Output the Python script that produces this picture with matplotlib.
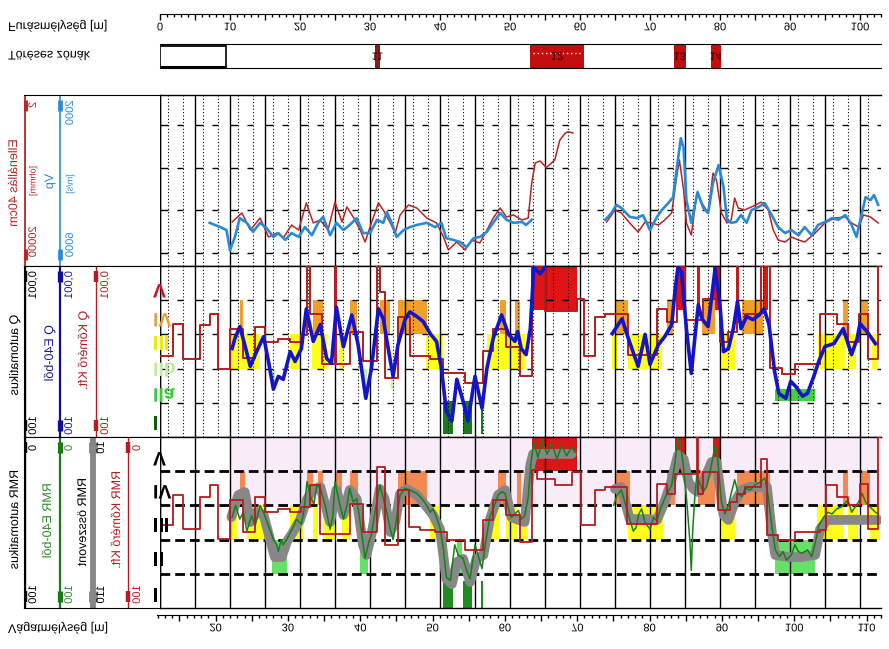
import numpy as np
import matplotlib
matplotlib.use("Agg")
import matplotlib.pyplot as plt
import matplotlib.text as mtext
from matplotlib import patheffects
from matplotlib.patches import Rectangle
from matplotlib.transforms import Affine2D

plt.rcParams['font.family'] = ['Liberation Sans', 'DejaVu Sans']
nan = np.nan

# ---------------- data (furásmélység [m]) ----------------
# panel 1 : Ellenállás 40cm [ohmm]
res_depth = [10.3, 11.7, 12.9, 14.3, 15.5, 16.7, 17.6, 18.8, 19.8, 20.9,
             21.9, 22.9, 24.0, 25.0, 26.0, 26.7, 27.6, 28.6, 29.3, 30.2,
             31.2, 31.9, 32.9, 33.6, 34.3, 35.5, 36.7, 38.1, 39.5, 40.5,
             41.2, 42.4, 43.6, 44.5, 45.7, 46.7, 47.6, 48.6, 49.5, 50.5,
             51.7, 52.6, 53.1, 53.6, 54.3, 55.2, 56.4, 57.1, 57.9, 58.3,
             59.0, 61.0,
             63.8, 65.0, 65.9, 67.1, 68.3, 69.3, 70.2, 71.2, 72.1, 73.1,
             73.8, 74.2, 74.8, 75.2, 75.9, 76.7, 77.4, 78.3, 79.0, 79.5,
             80.2, 81.0, 81.6, 82.1, 82.6, 83.5, 84.5, 85.9, 86.9, 87.6,
             88.3, 89.3, 90.2, 91.2, 92.1, 93.6, 95.0, 96.4, 97.9, 98.8,
             99.8, 100.5, 101.5, 102.6]
res_ohmm = [1870, 1150, 2880, 1510, 4200, 3380, 4430, 2200, 2880, 670,
            1970, 1680, 2880, 640, 1870, 830, 1430, 2880, 5500, 1970,
            670, 980, 1970, 3380, 1280, 750, 880, 1510, 1970, 4200,
            8450, 5500, 8450, 4930, 5790, 2880, 1510, 880, 1430, 1280,
            1680, 1510, 230, 78, 70, 100, 66, 23, 15.5, 14.5,
            15.5, nan,
            1870, 980, 1150, 1970, 3210, 1870, 1970, 2200, 1680, 1150,
            166, 66, 333, 1970, 3770, 392, 670, 1150, 134, 195,
            1150, 1970, 1680, 513, 880, 980, 830, 640, 980, 2880,
            4930, 5500, 4200, 4930, 5500, 3380, 1970, 1510, 1430, 1970,
            2450, 1280, 1430, 1970]

# panel 1 : Vp [m/s]
vp_depth = [7.1, 8.6, 9.5, 10.0, 10.7, 11.4, 12.4, 13.3, 14.3, 15.2,
            16.2, 16.9, 17.9, 18.8, 19.8, 20.7, 21.7, 22.6, 23.3, 24.3,
            25.2, 26.2, 27.1, 28.1, 29.0, 30.0, 31.0, 31.9, 32.4, 33.1,
            33.8, 34.8, 35.7, 36.7, 38.1, 39.3, 40.2, 40.9, 41.9, 42.9,
            43.8, 44.8, 45.7, 46.7, 47.6, 48.6, 49.5, 50.5, 51.7, 52.3,
            53.1, 58.0,
            63.6, 64.5, 65.2, 65.9, 67.1, 68.1, 69.0, 70.0, 71.0, 71.7,
            72.6, 73.3, 73.8, 74.4, 74.8, 75.2, 75.9, 76.8, 77.6, 78.3,
            79.0, 79.8, 80.5, 81.0, 81.6, 82.3, 83.0, 83.8, 84.5, 85.5,
            86.4, 87.4, 88.3, 89.3, 90.2, 91.2, 92.1, 93.1, 94.0, 95.0,
            96.0, 96.9, 97.9, 98.8, 99.5, 100.3, 100.8, 101.5, 102.0, 102.6]
vp_ms = [4990, 5090, 5160, 5630, 5320, 4880, 4990, 5200, 4990, 5110,
         5320, 5230, 5390, 5230, 5320, 5090, 5280, 4990, 4850, 5280,
         4990, 5160, 5040, 4880, 5230, 5230, 4920, 4990, 4740, 4990,
         5320, 5160, 5090, 5040, 4990, 5090, 4990, 5350, 5390, 5440,
         5560, 5350, 5320, 5200, 4990, 4760, 4920, 4990, 4970, 5040,
         4920, nan,
         4920, 4760, 4570, 4640, 4850, 4880, 4810, 5160, 4850, 4690,
         4530, 4390, 3750, 3010, 3240, 4460, 4990, 4270, 4640, 4760,
         4060, 3640, 4150, 4920, 4990, 4970, 4810, 4990, 4690, 4620,
         4530, 4810, 5090, 5230, 5160, 5280, 5090, 5280, 5040, 4970,
         4880, 4920, 4810, 5040, 5320, 4740, 4390, 4460, 4340, 4570]

# panel 2 : Q E40-ből
q_depth = [10.3, 10.7, 11.4, 12.1, 12.9, 13.8, 14.8, 15.5, 16.2, 16.9,
           17.6, 18.6, 19.3, 20.2, 20.9, 21.9, 22.9, 23.8, 24.5, 25.2,
           26.2, 27.4, 28.3, 29.4, 30.2, 31.2, 31.9, 32.6, 33.3, 34.0,
           35.0, 35.7, 36.7, 37.6, 38.6, 39.5, 40.2, 40.9, 41.7, 42.4,
           43.3, 44.0, 45.0, 46.0, 46.7, 47.6, 48.8, 49.8, 50.7, 51.1,
           51.6, 52.3, 52.9, 53.4, 54.3, 55.0, 59.0,
           64.6, 66.0, 66.9, 68.3, 69.3, 70.0, 71.2, 72.1, 73.1, 73.6,
           74.0, 74.5, 75.2, 75.9, 76.4, 76.9, 77.4, 78.3, 79.3, 80.0,
           80.5, 81.2, 81.9, 82.5, 83.0, 83.8, 84.7, 85.6, 86.3, 87.0,
           87.8, 88.4, 89.4, 90.1, 90.8, 91.8, 92.5, 93.4, 94.1, 95.0,
           96.3, 97.6, 98.8, 99.6, 100.0, 101.0, 102.2]
q_e40 = [0.259, 0.132, 0.059, 0.198, 0.86, 0.32, 0.116, 0.62, 4.0, 1.69,
         2.06, 0.32, 0.62, 0.26, 0.018, 0.16, 0.052, 0.5, 0.7, 0.016,
         0.23, 0.027, 0.2, 7.4, 0.99, 0.018, 0.035, 0.26, 1.69, 0.2,
         0.037, 0.022, 0.03, 0.042, 0.095, 0.16, 0.99, 17.5, 34, 2.06,
         9.0, 34, 1.69, 14.4, 0.99, 0.13, 0.027, 0.1, 0.16, 0.083,
         0.26, 0.39, 0.068, 0.0011, 0.0017, 0.0011, nan,
         0.095, 0.035, 0.13, 0.86, 0.1, 0.75, 0.2, 0.116, 0.052, 0.0047,
         0.00107, 0.0015, 0.068, 1.38, 0.13, 0.0136, 0.035, 0.059, 0.0012, 0.0136,
         0.32, 0.26, 0.068, 0.011, 0.068, 0.03, 0.037, 0.027, 0.018, 0.052,
         1.21, 5.3, 7.4, 2.36, 3.3, 6.4, 5.3, 1.69, 0.62, 0.226,
         0.185, 0.068, 0.39, 0.13, 0.048, 0.083, 0.185]

# panel 2 : Q Kőmérő Kft. (lépcsős)
qk_depth = [0.0, 1.9, 3.3, 5.7, 7.1, 8.3, 10.0, 11.9, 13.6, 15.0,
            16.9, 18.6, 20.2, 21.0, 21.4, 23.1, 25.0, 25.2, 27.1, 29.0,
            31.0, 31.4, 32.1, 34.0, 35.7, 38.6, 40.5, 43.6, 46.2, 47.6,
            49.5, 51.4, 53.1, 55.0, 59.5, 60.5, 62.1, 63.6, 66.9, 71.0,
            72.4, 73.8, 75.0, 77.6, 80.0, 81.2, 82.4, 82.6, 83.6, 85.9,
            87.1, 88.8, 90.7, 94.3, 96.7, 98.3, 99.8, 101.2, 102.6, 103.0]
qk_val = [0.44, 0.0485, 0.54, 0.052, 0.025, 1.05, 0.068, 0.505, 0.059, 0.162,
          0.132, 0.162, 0.101, 0.001, 0.025, 0.755, 0.001, 0.755, 0.083, 0.62,
          0.001, 0.0057, 1.93, 0.030, 0.44, 0.54, 1.38, 2.69, 0.316, 0.068,
          0.226, 1.69, 0.001, 0.021, 0.0091, 0.44, 0.030, 0.025, 0.39, 0.0178,
          0.0425, 0.001, 0.037, 0.0091, 0.162, 0.083, 0.001, 0.0425, 0.025, 0.001,
          0.99, 1.47, 0.71, 0.025, 0.0485, 0.162, 0.025, 0.54, 0.001, 0.001]

# panel 2 : Q osztályok (E40) sávjai
q_classes = ['V', 'IV', 'III', 'IIb', 'IIa', 'I']
q_class_top = [0.001, 0.01, 0.1, 1, 4, 9]
q_class_bot = [0.02, 0.1, 1, 4, 9, 80]
q_blk_start = [53.1, 73.9, 76.7, 79.0, 86.1,
               11.4, 21.9, 27.1, 31.4, 34.0, 48.6, 50.7, 65.0, 72.4, 77.4, 83.1, 97.6, 100.0,
               10.3, 18.6, 21.7, 25.5, 38.0, 46.7, 64.6, 66.9, 80.3, 94.0, 98.3, 101.7,
               16.0, 29.1, 33.0, 75.8,
               87.9,
               40.4, 43.3, 45.8]
q_blk_end = [59.6, 75.0, 77.1, 80.0, 86.9,
             11.8, 23.3, 28.1, 32.9, 38.1, 49.5, 51.4, 66.9, 73.3, 79.3, 86.1, 98.3, 101.2,
             14.3, 20.0, 23.9, 26.2, 40.5, 52.1, 65.4, 71.7, 82.1, 97.9, 99.4, 102.6,
             16.4, 29.5, 33.4, 76.0,
             93.6,
             41.9, 44.6, 46.2]
q_blk_class = [0] * 5 + [1] * 13 + [2] * 12 + [3] * 4 + [4] + [5] * 3

# panel 3 : RMR összevont
rg_depth = [10.2, 11.2, 12.1, 12.9, 13.8, 14.8, 15.7, 16.4, 17.4, 18.1,
            19.0, 20.0, 21.0, 22.0, 22.9, 23.6, 24.3, 25.2, 26.2, 27.1,
            28.1, 29.0, 29.5, 30.2, 31.4, 32.1, 32.9, 33.6, 34.3, 35.2,
            36.7, 38.1, 39.0, 40.0, 40.9, 41.7, 42.4, 43.3, 44.3, 45.2,
            46.2, 47.1, 48.3, 49.3, 50.2, 51.2, 52.1, 52.9, 53.3, 55.5,
            58.8, 61.0,
            65.0, 65.9, 67.1, 68.3, 69.8, 71.0, 71.9, 72.9,
            74.0, 74.8, 75.5, 76.2, 76.9, 77.6, 78.8, 79.5, 80.5, 81.2,
            82.1, 83.1, 84.3, 85.5, 86.7, 87.4, 87.9, 89.8, 91.7, 93.6,
            94.3, 95.3, 98.3, 101.2, 102.6]
rmr_total = [46.8, 33.9, 32.2, 49.7, 43.9, 45.6, 59.6, 70.2, 70.2, 61.4,
             55.6, 48.5, 36.3, 30.4, 29.2, 39.8, 49.7, 31.0, 45.6, 31.0,
             36.3, 63.2, 69.0, 57.3, 30.4, 36.3, 55.6, 49.7, 33.3, 30.4,
             33.9, 40.9, 45.6, 53.8, 83.0, 86.0, 73.1, 71.3, 84.8, 71.3,
             69.0, 48.5, 33.9, 31.0, 46.8, 48.5, 49.7, 16.4, 9.9, 9.9,
             9.9, nan,
             30.4, 29.2, 48.0, 48.0, 48.0, 48.5, 39.8, 28.1,
             10.5, 12.9, 26.3, 30.4, 32.2, 26.3, 14.6, 14.6, 45.6, 48.5,
             38.0, 31.0, 29.2, 29.2, 29.2, 55.6, 69.0, 70.2, 70.2, 69.0,
             53.8, 48.5, 48.5, 48.5, 48.5]

# panel 3 : RMR E40-ből
re_depth = [10.3, 10.8, 11.4, 11.9, 12.4, 13.1, 13.6, 14.3, 14.8, 15.5,
            16.2, 16.7, 16.9, 17.3, 17.6, 18.1, 18.6, 19.1, 19.5, 20.2,
            20.6, 21.0, 21.5, 22.0, 22.4, 22.9, 23.6, 24.3, 24.7, 25.0,
            25.6, 26.2, 26.7, 27.1, 27.6, 28.1, 28.6, 29.3, 29.8, 30.2,
            30.8, 31.4, 31.9, 32.4, 32.9, 33.3, 33.7, 34.3, 35.0, 35.7,
            36.7, 37.6, 38.1, 38.6, 39.0, 39.5, 40.0, 40.5, 40.9, 41.5,
            42.1, 42.6, 43.3, 43.8, 44.3, 45.0, 45.5, 46.0, 46.5, 47.1,
            47.6, 48.3, 48.8, 49.3, 49.8, 50.2, 50.7, 51.2, 51.6, 52.1,
            52.6, 53.0, 53.4, 54.0, 54.6, 55.3, 56.0, 56.7, 57.4, 58.1,
            58.8, 59.3, 61.0,
            64.8, 65.3, 65.9, 66.4, 67.1, 67.6, 68.0, 68.4, 68.8, 69.3,
            70.0, 70.5, 71.0, 71.5, 72.1, 72.6, 73.1, 73.6, 74.0, 74.4,
            74.8, 75.3, 75.7, 75.9, 76.1, 76.4, 76.7, 77.1, 77.6, 78.1,
            78.6, 79.3, 79.7, 80.2, 80.7, 81.2, 81.6, 82.1, 82.6, 83.1,
            83.6, 84.3, 85.0, 85.9, 86.4, 86.9, 87.4, 87.9, 88.5, 89.0,
            89.5, 90.2, 90.7, 91.2, 91.7, 92.5, 93.1, 93.6, 94.1, 94.8,
            95.4, 96.0, 96.7, 97.3, 98.0, 98.3, 98.8, 99.3, 99.8, 100.3,
            100.8, 101.2, 101.7, 102.2, 102.6]
rmr_e40 = [47, 40, 48, 44, 55, 46, 52, 40, 44, 52,
           60, 63, 67, 60, 63, 60, 56, 52, 48, 51,
           42, 26, 35, 39, 28, 30, 40, 54, 46, 26,
           38, 48, 40, 30, 38, 36, 50, 71, 62, 57,
           42, 28, 36, 44, 54, 60, 50, 34, 30, 31,
           33, 37, 40, 44, 42, 47, 53, 66, 82, 84,
           63, 69, 71, 78, 83, 63, 70, 77, 62, 47,
           42, 34, 32, 33, 42, 47, 45, 43, 48, 46,
           35, 15, 3, 12, 2, 10, 4, 13, 5, 11,
           6, 9, nan,
           40, 34, 31, 38, 48, 55, 53, 45, 42, 50,
           54, 47, 49, 42, 36, 32, 28, 14, 1, 5,
           18, 40, 61, 78, 55, 35, 22, 27, 32, 29,
           20, 5, 14, 38, 45, 40, 33, 25, 33, 35,
           30, 31, 28, 26, 24, 35, 52, 66, 70, 67,
           72, 69, 63, 67, 68, 66, 70, 62, 52, 47,
           44, 45, 42, 41, 38, 37, 44, 41, 38, 33,
           38, 40, 42, 44, 45]

# panel 3 : RMR Kőmérő Kft. (lépcsős)
rk_depth = [0.0, 1.9, 3.3, 5.7, 7.1, 8.3, 10.0, 11.9, 13.6, 15.0,
            16.9, 18.6, 20.2, 21.4, 22.9, 27.1, 29.0, 31.0, 32.1, 34.0,
            35.5, 37.1, 39.3, 41.0, 43.6, 46.2, 47.6, 49.5, 51.4, 53.1,
            53.8, 56.4, 58.8, 60.2, 62.1, 63.6, 66.7, 71.0, 72.4, 73.6,
            76.7, 76.9, 77.6, 79.7, 81.4, 82.4, 83.6, 85.9, 86.7, 88.3,
            90.7, 94.3, 95.2, 96.7, 98.3, 100.0, 101.2, 102.6, 103.0]
rk_val = [51.5, 33.9, 53.8, 35.1, 28.1, 59.6, 36.8, 55.6, 35.1, 43.9,
          42.1, 43.9, 40.9, 28.1, 56.7, 39.2, 55.6, 17.5, 63.2, 31.0,
          52.6, 54.4, 55.6, 60.2, 66.0, 48.5, 36.8, 45.6, 61.4, 19.3,
          24.6, 28.1, 20.5, 51.5, 31.0, 29.2, 50.9, 27.5, 33.3, 21.6,
          0.0, 33.3, 20.5, 42.7, 38.0, 33.3, 29.2, 12.9, 57.3, 60.2,
          55.6, 54.4, 28.1, 35.1, 39.8, 27.5, 53.8, 0.0, 0.0]

# panel 3 : RMR osztályok sávjai
r_classes = ['V', 'IV', 'III', 'II', 'I']
r_class_top = [0, 20, 40, 60, 84]
r_class_bot = [20, 40, 60, 80, 100]
r_blk_start = [53.1, 73.6, 79.0,
               11.4, 21.0, 22.6, 25.2, 27.1, 34.0, 48.3, 51.0, 65.0, 72.4, 76.9, 82.4, 97.6, 100.0,
               10.0, 12.4, 18.6, 21.9, 23.3, 26.0, 38.6, 46.9, 49.5, 51.6, 66.9, 80.3, 93.9, 98.3, 101.4,
               16.0, 28.6, 42.5, 87.9,
               40.4, 43.3, 45.8]
r_blk_end = [59.6, 75.0, 80.0,
             12.1, 21.9, 23.3, 26.0, 28.3, 38.1, 49.5, 51.6, 67.1, 73.6, 79.3, 87.1, 98.3, 101.4,
             11.0, 15.0, 20.5, 22.6, 25.2, 27.1, 40.0, 48.6, 51.0, 52.6, 71.9, 82.1, 97.6, 99.7, 102.9,
             18.1, 29.7, 43.2, 93.6,
             41.9, 44.6, 46.2]
r_blk_class = [0] * 3 + [1] * 14 + [2] * 15 + [3] * 4 + [4] * 3

# töréses zónák
zone_start = [30.7, 52.9, 73.4, 78.7]
zone_end = [31.4, 60.6, 75.1, 80.1]
zone_names = ['11', '12', '13', '14']

# ---------------- layout helpers ----------------
W, H = 889, 649
XMAX = 103.0
fig = plt.figure(figsize=(W / 100, H / 100), dpi=100)


def box(x0, y0, x1, y1):
    return [x0 / W, 1 - y1 / H, (x1 - x0) / W, (y1 - y0) / H]


def ftext(x, y, s, **kw):
    kw.setdefault('ha', 'center')
    kw.setdefault('va', 'center')
    return fig.text(x / W, 1 - y / H, s, **kw)


class VFlip(patheffects.AbstractPathEffect):
    # the sheet is mirrored upside down, so every glyph is drawn flipped around its own middle
    def draw_path(self, renderer, gc, tpath, affine, rgbFace=None):
        bb = tpath.get_extents(affine)
        if np.isfinite([bb.y0, bb.y1]).all():
            yc = 0.5 * (bb.y0 + bb.y1)
            affine = affine + Affine2D().translate(0, -yc).scale(1, -1).translate(0, yc)
        renderer.draw_path(gc, tpath, affine, rgbFace)


def data_axes(top, bot):
    ax = fig.add_axes(box(160, top, 881, bot))
    ax.spines['right'].set_visible(False)
    for s in ('left', 'top', 'bottom'):
        ax.spines[s].set_linewidth(1.0)
    return ax


def clear_ticks(ax):
    ax.set_xticks([])
    ax.set_xticks([], minor=True)
    ax.set_yticks([])
    ax.set_yticks([], minor=True)


def header_axes(top, bot):
    h = fig.add_axes(box(24, top, 160, bot))
    h.set_xlim(24, 160)
    h.set_ylim(bot, top)
    clear_ticks(h)
    h.spines['right'].set_visible(False)
    return h


def scale_line(h, x, top, bot, color, lw=1.2):
    h.plot([x, x], [top, bot], color=color, lw=lw, clip_on=False, solid_capstyle='butt')
    h.plot([x, x], [top + 5, top + 16], color=color, lw=lw + 2.2, solid_capstyle='butt')
    h.plot([x, x], [bot - 17, bot - 6], color=color, lw=lw + 2.2, solid_capstyle='butt')


cells = np.arange(0, 101, 5)
dot_off = [8.3 / 7, 23.3 / 7]
seg_a = (0.0, 8.3 / 7)
seg_b = (16.7 / 7, 23.3 / 7)


def dotted_grid(ax, rows):
    for m0 in cells:
        ax.axvline(m0, color='k', lw=1.0, zorder=3)
        for off in dot_off:
            ax.axvline(m0 + off, color='k', lw=0.8, ls=(0, (1, 2)), zorder=3)
        for r in rows:
            ax.hlines(r, m0 + seg_a[0], m0 + seg_a[1], color='k', lw=1.0, zorder=3)
            ax.hlines(r, m0 + seg_b[0], m0 + seg_b[1], color='k', lw=1.0, zorder=3)


# ---------------- furásmélység scale ----------------
axT = fig.add_axes(box(160, 4, 881, 14))
axT.set_xlim(0, XMAX)
axT.set_yticks([])
for s in ('left', 'right', 'top'):
    axT.spines[s].set_visible(False)
axT.patch.set_visible(False)
axT.set_xticks(range(0, 101, 5), [str(v) if v % 10 == 0 else '' for v in range(0, 101, 5)])
axT.set_xticks(range(0, 104), minor=True)
axT.tick_params(which='major', length=4.5, width=1, labelsize=8, pad=1.5)
axT.tick_params(which='minor', length=2.5, width=1)
ftext(8, 26, 'Furásmélység [m]', ha='left', fontsize=9)

# ---------------- töréses zónák ----------------
axZ = fig.add_axes(box(160, 44, 881, 68))
axZ.set_xlim(0, XMAX)
axZ.set_ylim(0, 1)
clear_ticks(axZ)
axZ.spines['left'].set_visible(False)
axZ.spines['right'].set_visible(False)
axZ.add_patch(Rectangle((0, 0), 9.45, 1, fill=False, lw=1.2, ec='k'))
axZ.hlines(0.90, 0, 9.45, color='k', lw=1.3)
axZ.hlines(0.04, 0, 9.45, color='k', lw=2.2)
for i, (s, e, name) in enumerate(zip(zone_start, zone_end, zone_names)):
    axZ.axvspan(s, e, color='#8c1c1c' if i == 0 else '#c40e0e', lw=0)
    axZ.text((s + e) / 2, 0.45, name, ha='center', va='center', fontsize=8, color='#2a0000')
axZ.hlines(0.62, 53.3, 60.3, color='white', lw=1, ls=(0, (1, 2)))
ftext(8, 57, 'Töréses zónák', ha='left', fontsize=9)

# ---------------- panel 1 : ellenállás / Vp ----------------
RED1, BLUE1 = '#b82525', '#2b8ad6'
ax1 = data_axes(95, 266)
ax1.set_xlim(0, XMAX)
ax1.set_yscale('log')
ax1.set_ylim(20000, 2)
clear_ticks(ax1)
dotted_grid(ax1, [10, 100, 1000, 10000])
ax1.plot(res_depth, res_ohmm, color=RED1, lw=1.1, zorder=5)
ax1b = ax1.twinx()
ax1b.set_ylim(6000, 2000)
ax1b.axis('off')
ax1b.plot(vp_depth, vp_ms, color=BLUE1, lw=1.9, zorder=6)

h1 = header_axes(95, 266)
h1.spines['left'].set_visible(False)
scale_line(h1, 24.5, 95, 266, RED1, lw=1.3)
scale_line(h1, 60, 95, 266, BLUE1)
ftext(14, 183, 'Ellenállás 40cm', color=RED1, rotation=90, fontsize=9)
ftext(33, 181, '[ohmm]', color=RED1, rotation=90, fontsize=6.5)
ftext(33, 105, '2', color=RED1, rotation=90, fontsize=8)
ftext(33, 242, '20000', color=RED1, rotation=90, fontsize=8)
ftext(50, 181, 'Vp', color=BLUE1, rotation=90, fontsize=9)
ftext(70, 184, '[m/s]', color=BLUE1, rotation=90, fontsize=6.5)
ftext(70, 113, '2000', color=BLUE1, rotation=90, fontsize=8)
ftext(70, 245, '6000', color=BLUE1, rotation=90, fontsize=8)

# ---------------- panel 2 : Q ----------------
QBLUE, QRED = '#1414c8', '#b51c1c'
q_colors = ['#e01414', '#f0a02a', '#ffff1a', '#c4f0a8', '#40d040', '#1a7a1a']
ax2 = data_axes(266, 437)
ax2.set_xlim(0, XMAX)
ax2.set_yscale('log')
ax2.set_ylim(100, 0.001)
clear_ticks(ax2)
for s, e, c in zip(q_blk_start, q_blk_end, q_blk_class):
    ax2.fill_between([s, e], q_class_top[c], q_class_bot[c], color=q_colors[c], lw=0, zorder=1)
dotted_grid(ax2, [0.01, 0.1, 1, 10])
ax2.step(qk_depth, qk_val, where='post', color=QRED, lw=1.4, zorder=5)
ax2.plot(q_depth, q_e40, color=QBLUE, lw=2.6, zorder=6)

h2 = header_axes(266, 437)
scale_line(h2, 24.5, 266, 437, 'k', lw=1.0)
scale_line(h2, 60, 266, 437, '#0d0d9a', lw=1.6)
scale_line(h2, 96, 266, 437, QRED, lw=1.0)
ftext(15, 355, 'Q automatikus', color='k', rotation=90, fontsize=9)
ftext(50, 353, 'Q E40-ből', color='#1a1aa0', rotation=90, fontsize=9)
ftext(84, 350, 'Q Kőmérő Kft.', color=QRED, rotation=90, fontsize=9)
for x, c in ((33, 'k'), (69, '#1a1aa0'), (105, QRED)):
    ftext(x, 285, '0,001', color=c, rotation=90, fontsize=8)
    ftext(x, 426, '100', color=c, rotation=90, fontsize=8)
q_label_y = [293, 322, 345, 372, 397, 425]
q_label_col = ['#c8141e', '#e0a040', '#eaea10', '#c0eaa0', '#38c838', '#0f5f0f']
for name, y, c in zip(q_classes, q_label_y, q_label_col):
    ftext(153, y, name, ha='left', color=c, fontsize=14, fontweight='bold')

# ---------------- panel 3 : RMR ----------------
GREEN, GRAY = '#17801a', '#878787'
r_colors = ['#d81818', '#f08a50', '#ffff1a', '#66e066', '#1e8c1e']
ax3 = data_axes(437, 608)
ax3.set_xlim(0, XMAX)
ax3.set_ylim(100, 0)
clear_ticks(ax3)
ax3.fill_between([10, XMAX], 0, 40, color='#f7ecf7', lw=0, zorder=0.5)
for s, e, c in zip(r_blk_start, r_blk_end, r_blk_class):
    ax3.fill_between([s, e], r_class_top[c], r_class_bot[c], color=r_colors[c], lw=0, zorder=1)
for m0 in cells:
    ax3.axvline(m0, color='k', lw=1.0, zorder=2)
for lev in (20, 40, 60, 80):
    ax3.axhline(lev, color='k', lw=2, ls=(0, (3.5, 1.8)), zorder=3)
ax3.plot(rg_depth, rmr_total, color=GRAY, lw=7, solid_joinstyle='round',
         solid_capstyle='round', zorder=4)
ax3.plot(re_depth, rmr_e40, color=GREEN, lw=1.1, zorder=5)
ax3.step(rk_depth, rk_val, where='post', color=QRED, lw=1.3, zorder=6)

h3 = header_axes(437, 608)
scale_line(h3, 24.5, 437, 608, 'k', lw=1.0)
scale_line(h3, 60, 437, 608, '#1a7a1a', lw=1.6)
scale_line(h3, 93, 437, 608, GRAY, lw=4.2)
scale_line(h3, 128, 437, 608, QRED, lw=1.0)
ftext(15, 520, 'RMR automatikus', color='k', rotation=90, fontsize=9)
ftext(48, 521, 'RMR E40-ből', color='#2a8a2a', rotation=90, fontsize=9)
ftext(83, 523, 'RMR összevont', color='k', rotation=90, fontsize=9)
ftext(117, 520, 'RMR Kőmérő Kft.', color=QRED, rotation=90, fontsize=9)
for x, c, lo, hi in ((33, 'k', '0', '100'), (69, '#2a8a2a', '0', '100'),
                     (101, 'k', '10', '110'), (137, QRED, '0', '100')):
    ftext(x, 448, lo, color=c, rotation=90, fontsize=8)
    ftext(x, 595, hi, color=c, rotation=90, fontsize=8)
r_label_y = [461, 494, 527, 561, 597]
for name, y in zip(r_classes, r_label_y):
    ftext(153, y, name, ha='left', color='k', fontsize=14, fontweight='bold')

# ---------------- vágatmélység scale ----------------
axB = fig.add_axes(box(157, 605, 881, 615))
axB.set_xlim(11.9, 112.0)
axB.set_yticks([])
for s in ('left', 'right', 'top'):
    axB.spines[s].set_visible(False)
axB.patch.set_visible(False)
axB.set_xticks(range(15, 112, 5), [str(v) if v % 10 == 0 else '' for v in range(15, 112, 5)])
axB.set_xticks(range(12, 113), minor=True)
axB.tick_params(which='major', length=4.5, width=1, labelsize=8, pad=1.5)
axB.tick_params(which='minor', length=2.5, width=1)
ftext(8, 628, 'Vágatmélység [m]', ha='left', fontsize=9)

# flip every text like the sheet
fig.canvas.draw()
for t in fig.findobj(mtext.Text):
    t.set_path_effects([VFlip()])

fig.savefig('out.png', dpi=100)
